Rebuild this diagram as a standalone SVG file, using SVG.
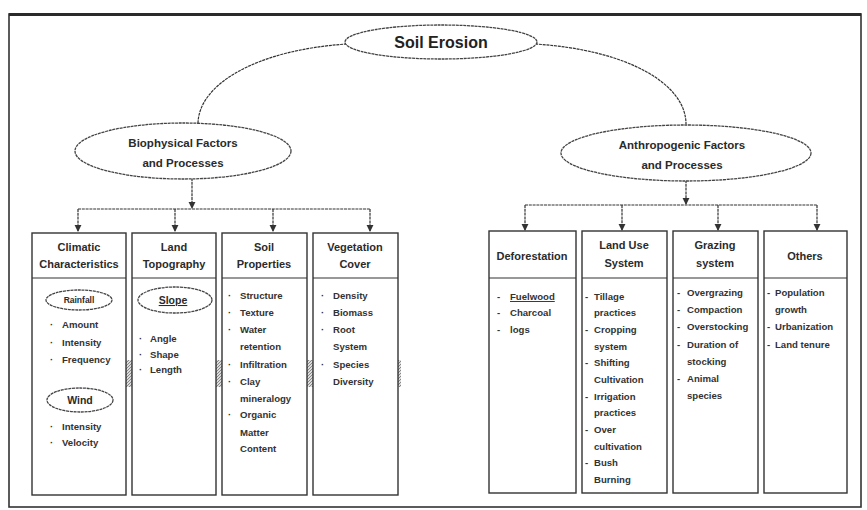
<svg xmlns="http://www.w3.org/2000/svg" width="867" height="510" viewBox="0 0 867 510">
<defs>
<marker id="arr" viewBox="0 0 8 8" refX="7" refY="4" markerWidth="6" markerHeight="6" orient="auto"><path d="M0,0 L8,4 L0,8 z" fill="#333"/></marker>
<pattern id="hatch" width="3" height="3" patternUnits="userSpaceOnUse"><rect width="3" height="3" fill="#ddd"/><path d="M0,3 L3,0" stroke="#888" stroke-width="1"/></pattern>
<style>
.frame{fill:#fff;stroke:#333;stroke-width:1.6}
.ell{fill:#fff;stroke:#444;stroke-width:1.3;stroke-dasharray:3 0.7}
.box{fill:#fff;stroke:#333;stroke-width:1.4}
.div{stroke:#333;stroke-width:1.2}
.con{fill:none;stroke:#333;stroke-width:1.2;stroke-dasharray:3 0.8}
.t{font-family:"Liberation Sans",Arial,sans-serif;font-weight:bold;fill:#2b2b2b}
.big{font-size:16px;fill:#222}
.mid{font-size:11.5px}
.hd{font-size:11px;text-anchor:middle}
.it{font-size:9.6px;fill:#333}
.sub{font-size:9.5px;text-anchor:middle}
</style>
</defs>
<rect class="frame" x="9" y="14" width="852" height="493"/>
<line x1="9" y1="14.5" x2="861" y2="14.5" stroke="#2a2a2a" stroke-width="3"/>

<g id="connectors">
<path class="con" d="M347,44 C255,50 198,85 198,124"/>
<path class="con" d="M535,44 C630,50 686,85 686,124"/>
<line class="con" x1="192" y1="178" x2="192" y2="208" marker-end="url(#arr)"/>
<path class="con" d="M78,209 H370"/>
<line class="con" x1="78" y1="209" x2="78" y2="231" marker-end="url(#arr)"/>
<line class="con" x1="175" y1="209" x2="175" y2="231" marker-end="url(#arr)"/>
<line class="con" x1="273" y1="209" x2="273" y2="231" marker-end="url(#arr)"/>
<line class="con" x1="370" y1="209" x2="370" y2="231" marker-end="url(#arr)"/>
<line class="con" x1="686" y1="180" x2="686" y2="204" marker-end="url(#arr)"/>
<path class="con" d="M525,205 H817"/>
<line class="con" x1="525" y1="205" x2="525" y2="230" marker-end="url(#arr)"/>
<line class="con" x1="622" y1="205" x2="622" y2="230" marker-end="url(#arr)"/>
<line class="con" x1="718" y1="205" x2="718" y2="230" marker-end="url(#arr)"/>
<line class="con" x1="817" y1="205" x2="817" y2="230" marker-end="url(#arr)"/>
</g>

<g id="hatches">
<rect x="126" y="360" width="6" height="27" fill="url(#hatch)"/>
<rect x="216" y="360" width="6" height="27" fill="url(#hatch)"/>
<rect x="307" y="360" width="6" height="27" fill="url(#hatch)"/>
<rect x="398" y="360" width="3" height="27" fill="url(#hatch)"/>
</g>

<g id="soil-erosion">
<ellipse class="ell" cx="441" cy="42" rx="96" ry="17"/>
<text class="t big" x="441" y="48" text-anchor="middle">Soil Erosion</text>
</g>

<g id="biophysical">
<ellipse class="ell" cx="183" cy="151" rx="108" ry="28"/>
<text class="t mid" x="183" y="147" text-anchor="middle">Biophysical Factors</text>
<text class="t mid" x="183" y="167" text-anchor="middle">and Processes</text>
</g>

<g id="anthropogenic">
<ellipse class="ell" cx="686" cy="153" rx="125" ry="28"/>
<text class="t mid" x="682" y="149" text-anchor="middle">Anthropogenic Factors</text>
<text class="t mid" x="682" y="169" text-anchor="middle">and Processes</text>
</g>

<g id="climatic">
<rect class="box" x="32" y="233" width="94" height="262"/>
<line class="div" x1="32" y1="278" x2="126" y2="278"/>
<text class="t hd" x="79" y="251">Climatic</text>
<text class="t hd" x="79" y="268">Characteristics</text>
<ellipse class="ell" cx="79" cy="300" rx="33" ry="10"/>
<text class="t sub" x="79" y="303" style="font-size:8.5px">Rainfall</text>
<text class="t it" x="50" y="328">·</text><text class="t it" x="62" y="328">Amount</text>
<text class="t it" x="50" y="346">·</text><text class="t it" x="62" y="346">Intensity</text>
<text class="t it" x="50" y="363">·</text><text class="t it" x="62" y="363">Frequency</text>
<ellipse class="ell" cx="80" cy="400" rx="33" ry="12"/>
<text class="t sub" x="80" y="404" style="font-size:10.5px">Wind</text>
<text class="t it" x="50" y="430">·</text><text class="t it" x="62" y="430">Intensity</text>
<text class="t it" x="50" y="446">·</text><text class="t it" x="62" y="446">Velocity</text>
</g>

<g id="land-topography">
<rect class="box" x="132" y="233" width="84" height="262"/>
<line class="div" x1="132" y1="278" x2="216" y2="278"/>
<text class="t hd" x="174" y="251">Land</text>
<text class="t hd" x="174" y="268">Topography</text>
<ellipse class="ell" cx="175" cy="300" rx="37" ry="13"/>
<text class="t sub" x="173" y="304" style="font-size:10.5px;text-decoration:underline">Slope</text>
<text class="t it" x="139" y="342">·</text><text class="t it" x="150" y="342">Angle</text>
<text class="t it" x="139" y="358">·</text><text class="t it" x="150" y="358">Shape</text>
<text class="t it" x="139" y="373">·</text><text class="t it" x="150" y="373">Length</text>
</g>

<g id="soil-properties">
<rect class="box" x="222" y="233" width="85" height="262"/>
<line class="div" x1="222" y1="278" x2="307" y2="278"/>
<text class="t hd" x="264" y="251">Soil</text>
<text class="t hd" x="264" y="268">Properties</text>
<text class="t it" x="228" y="299">·</text><text class="t it" x="240" y="299">Structure</text>
<text class="t it" x="228" y="316">·</text><text class="t it" x="240" y="316">Texture</text>
<text class="t it" x="228" y="333">·</text><text class="t it" x="240" y="333">Water</text>
<text class="t it" x="240" y="350">retention</text>
<text class="t it" x="228" y="368">·</text><text class="t it" x="240" y="368">Infiltration</text>
<text class="t it" x="228" y="385">·</text><text class="t it" x="240" y="385">Clay</text>
<text class="t it" x="240" y="402">mineralogy</text>
<text class="t it" x="228" y="418">·</text><text class="t it" x="240" y="418">Organic</text>
<text class="t it" x="240" y="436">Matter</text>
<text class="t it" x="240" y="452">Content</text>
</g>

<g id="vegetation-cover">
<rect class="box" x="313" y="233" width="85" height="262"/>
<line class="div" x1="313" y1="278" x2="398" y2="278"/>
<text class="t hd" x="355" y="251">Vegetation</text>
<text class="t hd" x="355" y="268">Cover</text>
<text class="t it" x="321" y="299">·</text><text class="t it" x="333" y="299">Density</text>
<text class="t it" x="321" y="316">·</text><text class="t it" x="333" y="316">Biomass</text>
<text class="t it" x="321" y="333">·</text><text class="t it" x="333" y="333">Root</text>
<text class="t it" x="333" y="350">System</text>
<text class="t it" x="321" y="368">·</text><text class="t it" x="333" y="368">Species</text>
<text class="t it" x="333" y="385">Diversity</text>
</g>

<g id="deforestation">
<rect class="box" x="489" y="231" width="87" height="262"/>
<line class="div" x1="489" y1="278" x2="576" y2="278"/>
<text class="t hd" x="532" y="260">Deforestation</text>
<text class="t it" x="497" y="300">-</text><text class="t it" x="510" y="300" style="text-decoration:underline">Fuelwood</text>
<text class="t it" x="497" y="316">-</text><text class="t it" x="510" y="316">Charcoal</text>
<text class="t it" x="497" y="333">-</text><text class="t it" x="510" y="333">logs</text>
</g>

<g id="land-use-system">
<rect class="box" x="582" y="231" width="85" height="262"/>
<line class="div" x1="582" y1="278" x2="667" y2="278"/>
<text class="t hd" x="624" y="249">Land Use</text>
<text class="t hd" x="624" y="267">System</text>
<text class="t it" x="585" y="300">-</text><text class="t it" x="594" y="300">Tillage</text>
<text class="t it" x="594" y="316">practices</text>
<text class="t it" x="585" y="333">-</text><text class="t it" x="594" y="333">Cropping</text>
<text class="t it" x="594" y="350">system</text>
<text class="t it" x="585" y="366">-</text><text class="t it" x="594" y="366">Shifting</text>
<text class="t it" x="594" y="383">Cultivation</text>
<text class="t it" x="585" y="400">-</text><text class="t it" x="594" y="400">Irrigation</text>
<text class="t it" x="594" y="416">practices</text>
<text class="t it" x="585" y="433">-</text><text class="t it" x="594" y="433">Over</text>
<text class="t it" x="594" y="450">cultivation</text>
<text class="t it" x="585" y="466">-</text><text class="t it" x="594" y="466">Bush</text>
<text class="t it" x="594" y="483">Burning</text>
</g>

<g id="grazing-system">
<rect class="box" x="673" y="231" width="85" height="262"/>
<line class="div" x1="673" y1="278" x2="758" y2="278"/>
<text class="t hd" x="715" y="249">Grazing</text>
<text class="t hd" x="715" y="267">system</text>
<text class="t it" x="677" y="296">-</text><text class="t it" x="687" y="296">Overgrazing</text>
<text class="t it" x="677" y="313">-</text><text class="t it" x="687" y="313">Compaction</text>
<text class="t it" x="677" y="330">-</text><text class="t it" x="687" y="330">Overstocking</text>
<text class="t it" x="677" y="348">-</text><text class="t it" x="687" y="348">Duration of</text>
<text class="t it" x="687" y="365">stocking</text>
<text class="t it" x="677" y="382">-</text><text class="t it" x="687" y="382">Animal</text>
<text class="t it" x="687" y="399">species</text>
</g>

<g id="others">
<rect class="box" x="764" y="231" width="83" height="262"/>
<line class="div" x1="764" y1="278" x2="847" y2="278"/>
<text class="t hd" x="805" y="260">Others</text>
<text class="t it" x="767" y="296">-</text><text class="t it" x="775" y="296">Population</text>
<text class="t it" x="775" y="313">growth</text>
<text class="t it" x="767" y="330">-</text><text class="t it" x="775" y="330">Urbanization</text>
<text class="t it" x="767" y="348">-</text><text class="t it" x="775" y="348">Land tenure</text>
</g>
</svg>
